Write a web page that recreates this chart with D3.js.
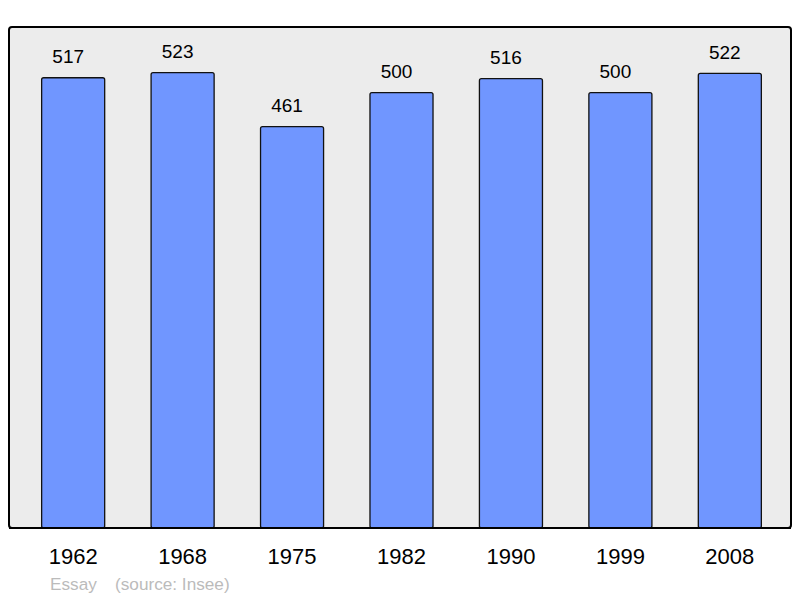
<!DOCTYPE html>
<html><head><meta charset="utf-8">
<script src="https://cdn.jsdelivr.net/npm/d3@7"></script>
<style>body{margin:0;background:#fff}svg{display:block}</style>
</head><body>
<script>
const years = ["1962","1968","1975","1982","1990","1999","2008"];
const population = [517,523,461,500,516,500,522];
const footerLabel = "Essay";
const sourceLabel = "(source: Insee)";

const W = 800, H = 598;
const panel = {x0: 9, y0: 27, x1: 791, y1: 528};
const svg = d3.select("body").append("svg").attr("width", W).attr("height", H);

svg.append("rect").attr("x", panel.x0).attr("y", panel.y0)
  .attr("width", panel.x1 - panel.x0).attr("height", panel.y1 - panel.y0)
  .attr("rx", 3).attr("fill", "#ececec").attr("stroke", "#000").attr("stroke-width", 2);

const x = d3.scaleBand().domain(years).range([11, 792]).paddingInner(0.424).paddingOuter(0.28);
const y = d3.scaleLinear().domain([0, d3.max(population) * 1.1]).range([panel.y1, panel.y0]);

const data = years.map((yr, i) => ({yr, v: population[i]}));

svg.append("g").selectAll("rect").data(data).join("rect")
  .attr("x", d => x(d.yr)).attr("y", d => y(d.v))
  .attr("width", x.bandwidth()).attr("height", d => panel.y1 - y(d.v))
  .attr("rx", 2).attr("fill", "#7096ff").attr("stroke", "#111").attr("stroke-width", 1.3);

svg.append("line").attr("x1", panel.x0).attr("x2", panel.x1).attr("y1", panel.y1).attr("y2", panel.y1)
  .attr("stroke", "#000").attr("stroke-width", 2);

svg.append("g").selectAll("text").data(data).join("text")
  .attr("x", d => x(d.yr) + x.bandwidth() / 2 - 5).attr("y", d => y(d.v) - 14.7)
  .attr("text-anchor", "middle").attr("font-family", "Liberation Sans, Arial, sans-serif")
  .attr("font-size", 19).attr("fill", "#000").text(d => d.v);

const xAxis = d3.axisBottom(x).tickSize(0).tickPadding(0);
const ax = svg.append("g").attr("transform", `translate(0,${panel.y1})`).call(xAxis);
ax.select(".domain").remove();
ax.selectAll("text").attr("y", 36).attr("dy", 0)
  .attr("font-family", "Liberation Sans, Arial, sans-serif").attr("font-size", 22).attr("fill", "#000");

svg.append("text").attr("x", 50).attr("y", 590).attr("font-family", "Liberation Sans, Arial, sans-serif")
  .attr("font-size", 17.2).attr("fill", "#bbb").text(footerLabel);
svg.append("text").attr("x", 115).attr("y", 590).attr("font-family", "Liberation Sans, Arial, sans-serif")
  .attr("font-size", 17.2).attr("fill", "#bbb").text(sourceLabel);
</script>
</body></html>
